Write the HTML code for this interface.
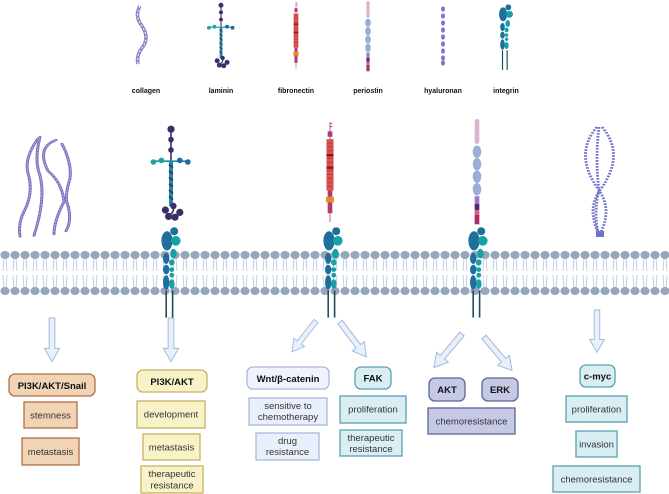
<!DOCTYPE html>
<html><head><meta charset="utf-8"><style>
html,body{margin:0;padding:0;background:#fff;}
svg{display:block;font-family:"Liberation Sans",Arial,sans-serif;}
.b{font-weight:bold;font-size:9.5px;fill:#111;}
.t{font-size:9.5px;fill:#333;}
.l{font-weight:bold;font-size:7px;fill:#111;}
</style></head><body>
<svg width="669" height="494" viewBox="0 0 669 494" xmlns="http://www.w3.org/2000/svg">
<defs>
<pattern id="mem" x="0" y="249" width="10" height="48" patternUnits="userSpaceOnUse">
 <g stroke="#b9cbe6" stroke-width="0.9" fill="none">
  <path d="M4 9 L3 22 M6 9 L7 22 M3 26 L4 39 M7 26 L6 39"/>
 </g>
 <ellipse cx="5" cy="6" rx="4.6" ry="4" fill="#97a7bb"/>
 <ellipse cx="5" cy="42" rx="4.6" ry="4" fill="#97a7bb"/>
</pattern>
<g id="itg">
 <line x1="-6" y1="78" x2="-6" y2="112" stroke="#1d4e55" stroke-width="2"/>
 <line x1="2" y1="78" x2="2" y2="112" stroke="#1d4e55" stroke-width="2"/>
 <ellipse cx="-6" cy="38" rx="4" ry="7" fill="#1f6e9c"/>
 <ellipse cx="-6" cy="52" rx="4" ry="6" fill="#1f6e9c"/>
 <ellipse cx="-6" cy="68" rx="4" ry="9" fill="#1f6e9c"/>
 <ellipse cx="-5" cy="16" rx="7" ry="12" fill="#1f6e9c"/>
 <circle cx="6" cy="16" r="6" fill="#16a0a8"/>
 <circle cx="4" cy="4" r="5" fill="#1f6e9c"/>
 <ellipse cx="3" cy="32" rx="4" ry="6" fill="#16a0a8"/>
 <ellipse cx="1" cy="43" rx="3.5" ry="4" fill="#16a0a8"/>
 <circle cx="1" cy="52" r="3" fill="#16a0a8"/>
 <circle cx="1" cy="59" r="3" fill="#16a0a8"/>
 <ellipse cx="1" cy="70" rx="3.5" ry="6" fill="#16a0a8"/>
</g>
<g id="lam">
 <line x1="0" y1="0" x2="0" y2="80" stroke="#3b2f6b" stroke-width="2"/>
 <rect x="-2.5" y="45" width="5" height="55" fill="#1a8e9c"/>
 <path d="M-2.5 48 l5 4 M-2.5 56 l5 4 M-2.5 64 l5 4 M-2.5 72 l5 4 M-2.5 80 l5 4 M-2.5 88 l5 4" stroke="#3b2f6b" stroke-width="2"/>
 <circle cx="0" cy="4" r="4.5" fill="#3b2f6b"/>
 <circle cx="0" cy="17" r="3.5" fill="#3b2f6b"/>
 <circle cx="0" cy="30" r="3.5" fill="#3b2f6b"/>
 <line x1="-24" y1="44" x2="24" y2="44" stroke="#1a8e9c" stroke-width="2"/>
 <circle cx="-22" cy="45" r="3.5" fill="#19a5a5"/>
 <circle cx="-12" cy="43" r="3.5" fill="#19a5a5"/>
 <circle cx="11" cy="43" r="3.5" fill="#1d6aa0"/>
 <circle cx="21" cy="45" r="3.5" fill="#1d6aa0"/>
 <path d="M0 100 q6 4 0 10" stroke="#3b2f6b" stroke-width="2" fill="none"/>
 <circle cx="-7" cy="105" r="4.5" fill="#3b2f6b"/>
 <circle cx="-3" cy="113" r="4.5" fill="#3b2f6b"/>
 <circle cx="5" cy="114" r="4.5" fill="#3b2f6b"/>
 <circle cx="11" cy="108" r="4.5" fill="#3b2f6b"/>
 <circle cx="3" cy="100" r="4" fill="#3b2f6b"/>
</g>
<g id="fib">
 <line x1="0" y1="0" x2="0" y2="128" stroke="#b2325c" stroke-width="1"/>
 <path d="M0 2 h3 M0 6 h3" stroke="#b2325c"/>
 <rect x="-3" y="12" width="6" height="7" fill="#b03a78"/>
 <rect x="-4.5" y="22" width="9" height="66" fill="#d9534f"/>
 <path d="M-4.5 27h9 M-4.5 32h9 M-4.5 37h9 M-4.5 47h9 M-4.5 52h9 M-4.5 62h9 M-4.5 67h9 M-4.5 72h9 M-4.5 78h9 M-4.5 83h9" stroke="#b83030" stroke-width="0.8"/>
 <rect x="-4.5" y="41" width="9" height="3" fill="#7a1a28"/>
 <rect x="-4.5" y="57" width="9" height="3" fill="#7a1a28"/>
 <rect x="-3" y="88" width="6" height="8" fill="#b03a78"/>
 <rect x="-5" y="96" width="10" height="7" fill="#ea8a1f"/>
 <rect x="-3" y="103" width="6" height="14" fill="#b03a78"/>
</g>
<g id="per">
 <rect x="-3" y="0" width="6" height="32" rx="3" fill="#dcb3cf"/>
 <ellipse cx="0" cy="42" rx="5.5" ry="8" fill="#9aadd6"/>
 <ellipse cx="0" cy="58" rx="5.5" ry="8" fill="#9aadd6"/>
 <ellipse cx="0" cy="74" rx="5.5" ry="8" fill="#9aadd6"/>
 <ellipse cx="0" cy="90" rx="5.5" ry="8" fill="#9aadd6"/>
 <rect x="-3" y="99" width="6" height="10" fill="#9a78cc"/>
 <rect x="-3" y="109" width="6" height="8" fill="#4b2b7a"/>
 <rect x="-3" y="117" width="6" height="6" fill="#e05a80"/>
 <rect x="-3" y="123" width="6" height="12" fill="#a82c60"/>
</g>
<path id="arr" d="M-3 0 h6 v32 h5 l-8 14 l-8 -14 h5 z" fill="#e8f0fb" stroke="#9fb6dc" stroke-width="1"/>
</defs>

<!-- legend -->
<path d="M140 6 q-6 10 2 20 q8 12 0 22 q-6 8 -4 16" fill="none" stroke="#8e84c8" stroke-width="3.5"/>
<path d="M140 6 q-6 10 2 20 q8 12 0 22 q-6 8 -4 16" fill="none" stroke="#fff" stroke-width="1" stroke-dasharray="2 2"/>
<use href="#lam" transform="translate(221,3) scale(0.55)"/>
<use href="#fib" transform="translate(296,2) scale(0.52)"/>
<use href="#per" transform="translate(368,1) scale(0.52)"/>
<g fill="#7a78c8">
<ellipse cx="443" cy="9" rx="2" ry="2.6"/><ellipse cx="443" cy="16" rx="2" ry="2.6"/><ellipse cx="443" cy="23" rx="2" ry="2.6"/><ellipse cx="443" cy="30" rx="2" ry="2.6"/><ellipse cx="443" cy="37" rx="2" ry="2.6"/><ellipse cx="443" cy="44" rx="2" ry="2.6"/><ellipse cx="443" cy="51" rx="2" ry="2.6"/><ellipse cx="443" cy="58" rx="2" ry="2.6"/><ellipse cx="443" cy="63" rx="2" ry="2.6"/>
</g>
<use href="#itg" transform="translate(506,5) scale(0.58)"/>
<text class="l" x="146" y="93" text-anchor="middle">collagen</text>
<text class="l" x="221" y="93" text-anchor="middle">laminin</text>
<text class="l" x="296" y="93" text-anchor="middle">fibronectin</text>
<text class="l" x="368" y="93" text-anchor="middle">periostin</text>
<text class="l" x="443" y="93" text-anchor="middle">hyaluronan</text>
<text class="l" x="506" y="93" text-anchor="middle">integrin</text>

<!-- collagen fibers -->
<g fill="none" stroke-linecap="round" transform="translate(0,137) scale(1,0.77) translate(0,-146)">
 <g stroke="#7d6cc0" stroke-width="3">
  <path d="M38 148 q-14 25 -10 45 q6 25 -4 50 q-6 15 -4 32"/>
  <path d="M40 146 q-6 30 0 50 q6 30 -6 78"/>
  <path d="M56 150 q-20 10 -8 40 q14 15 16 40 q-10 25 -10 42"/>
  <path d="M62 155 q10 25 8 45 q-6 25 -2 35 q4 20 -2 33"/>
 </g>
 <g stroke="#c2b6e8" stroke-width="1" stroke-dasharray="2 2">
  <path d="M38 148 q-14 25 -10 45 q6 25 -4 50 q-6 15 -4 32"/>
  <path d="M40 146 q-6 30 0 50 q6 30 -6 78"/>
  <path d="M56 150 q-20 10 -8 40 q14 15 16 40 q-10 25 -10 42"/>
  <path d="M62 155 q10 25 8 45 q-6 25 -2 35 q4 20 -2 33"/>
 </g>
</g>
<use href="#lam" transform="translate(171,126) scale(0.8)"/>
<use href="#fib" transform="translate(330,122) scale(0.78)"/>
<use href="#per" transform="translate(477,119) scale(0.78)"/>
<!-- hyaluronan -->
<g fill="none" stroke="#6f76c8" stroke-width="2.8" stroke-dasharray="2.2 1.6" transform="translate(0,127) scale(1,0.79) translate(0,-136)">
 <path d="M597 136 q-24 35 2 80 q14 25 0 58"/>
 <path d="M599 136 q-4 40 0 80 q-6 30 0 58"/>
 <path d="M602 136 q24 35 -2 80 q-14 25 0 58"/>
</g>
<rect x="596" y="231" width="8" height="6" fill="#6f76c8"/>

<!-- membrane -->
<rect x="0" y="249" width="669" height="48" fill="url(#mem)"/>
<use href="#itg" transform="translate(171,228) scale(0.8)"/>
<use href="#itg" transform="translate(333,228) scale(0.8)"/>
<use href="#itg" transform="translate(478,228) scale(0.8)"/>

<!-- arrows -->
<use href="#arr" transform="translate(52,318) scale(0.95)"/>
<use href="#arr" transform="translate(171,318) scale(0.95)"/>
<use href="#arr" transform="translate(316,321) rotate(38) scale(0.85)"/>
<use href="#arr" transform="translate(340,322) rotate(-37) scale(0.95)"/>
<use href="#arr" transform="translate(462,334) rotate(40) scale(0.95)"/>
<use href="#arr" transform="translate(484,337) rotate(-40) scale(0.95)"/>
<use href="#arr" transform="translate(597,310) scale(0.92)"/>

<!-- boxes -->
<g stroke-width="1.3">
<rect x="9" y="374" width="86" height="22" rx="6" fill="#f1d3b6" stroke="#b26f42"/>
<rect x="24" y="402" width="53" height="26" fill="#f1d3b6" stroke="#b26f42"/>
<rect x="22" y="438" width="57" height="27" fill="#f1d3b6" stroke="#b26f42"/>
<rect x="137" y="370" width="70" height="22" rx="6" fill="#f8f2c8" stroke="#c8b062"/>
<rect x="137" y="401" width="68" height="27" fill="#f8f2c8" stroke="#c8b062"/>
<rect x="143" y="434" width="57" height="26" fill="#f8f2c8" stroke="#c8b062"/>
<rect x="141" y="466" width="62" height="27" fill="#f8f2c8" stroke="#c8b062"/>
<rect x="247" y="367" width="82" height="22" rx="6" fill="#f0f3fb" stroke="#a9b8dd"/>
<rect x="249" y="398" width="78" height="27" fill="#eaf0fb" stroke="#a9b8dd"/>
<rect x="256" y="433" width="63" height="27" fill="#eaf0fb" stroke="#a9b8dd"/>
<rect x="355" y="367" width="36" height="22" rx="6" fill="#d8eef3" stroke="#5aa0b0"/>
<rect x="340" y="396" width="66" height="27" fill="#d8eef3" stroke="#5aa0b0"/>
<rect x="340" y="430" width="62" height="26" fill="#d8eef3" stroke="#5aa0b0"/>
<rect x="429" y="378" width="36" height="23" rx="6" fill="#c6c9e5" stroke="#5c6494"/>
<rect x="482" y="378" width="36" height="23" rx="6" fill="#c6c9e5" stroke="#5c6494"/>
<rect x="428" y="408" width="87" height="26" fill="#c6c9e5" stroke="#5c6494"/>
<rect x="580" y="365" width="35" height="22" rx="6" fill="#d8eef3" stroke="#5aa0b0"/>
<rect x="566" y="396" width="61" height="26" fill="#d8eef3" stroke="#5aa0b0"/>
<rect x="576" y="431" width="41" height="26" fill="#d8eef3" stroke="#5aa0b0"/>
<rect x="553" y="466" width="87" height="26" fill="#d8eef3" stroke="#5aa0b0"/>
</g>
<g text-anchor="middle">
<text class="b" x="52" y="389">PI3K/AKT/Snail</text>
<text class="t" x="50.5" y="418.5">stemness</text>
<text class="t" x="50.5" y="455">metastasis</text>
<text class="b" x="172" y="385">PI3K/AKT</text>
<text class="t" x="171" y="417.5">development</text>
<text class="t" x="171.5" y="450.5">metastasis</text>
<text class="t" x="172" y="477">therapeutic</text>
<text class="t" x="172" y="488.5">resistance</text>
<text class="b" x="288" y="382">Wnt/β-catenin</text>
<text class="t" x="288" y="409">sensitive to</text>
<text class="t" x="288" y="420">chemotherapy</text>
<text class="t" x="287.5" y="444">drug</text>
<text class="t" x="287.5" y="455">resistance</text>
<text class="b" x="373" y="381.5">FAK</text>
<text class="t" x="373" y="412.5">proliferation</text>
<text class="t" x="371" y="441">therapeutic</text>
<text class="t" x="371" y="452">resistance</text>
<text class="b" x="447" y="393">AKT</text>
<text class="b" x="500" y="393">ERK</text>
<text class="t" x="471.5" y="424.5">chemoresistance</text>
<text class="b" x="597.5" y="379.5">c-myc</text>
<text class="t" x="596.5" y="412.5">proliferation</text>
<text class="t" x="596.5" y="447.5">invasion</text>
<text class="t" x="596.5" y="482.5">chemoresistance</text>
</g>
</svg>
</body></html>
